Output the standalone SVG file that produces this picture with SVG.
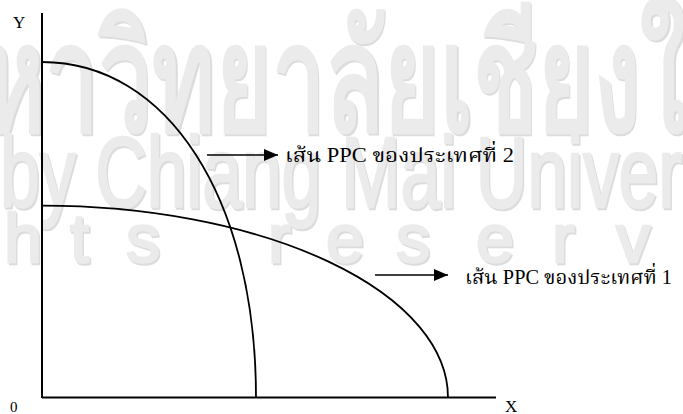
<svg xmlns="http://www.w3.org/2000/svg" width="683" height="414" viewBox="0 0 683 414">
<style>
.wm{fill:#ebebeb}
.wms{fill:#dcdcdc}
.th{font-family:"Liberation Sans Narrow","Liberation Sans","Noto Sans",sans-serif;font-weight:bold}
.en{font-family:"Liberation Sans Narrow","Liberation Sans",sans-serif;font-weight:normal}
.thk{stroke-width:2.5}
.wm .thk{stroke:#ebebeb}
.wms .thk{stroke:#dcdcdc}
.ax{stroke:#000;stroke-width:2;fill:none}
.cv{stroke:#000;stroke-width:1.8;fill:none}
.ar{stroke:#000;stroke-width:1.6;fill:none}
.lb{font-family:"Liberation Serif","Noto Serif Thai","Noto Sans Thai Looped","Noto Sans",serif;fill:#000}
</style>
<defs>
<marker id="ah" markerWidth="14" markerHeight="12" refX="14" refY="6" orient="auto" markerUnits="userSpaceOnUse">
<path d="M0,0 L14,6 L0,12 Z" fill="#000"/>
</marker>
</defs>
<rect width="683" height="414" fill="#fff"/>
<g id="watermark">
<g class="wms" transform="translate(1.5,1.5)">
<text class="th" x="-18" y="131" font-size="150" textLength="705" lengthAdjust="spacingAndGlyphs">หาวิทยาลัยเชียงใ</text>
<text class="en thk" x="0" y="207" font-size="100" textLength="682" lengthAdjust="spacingAndGlyphs">by Chiang Mai Univer</text>
<g class="en thk" font-size="68">
<text x="4" y="262">h</text><text x="70" y="262">t</text><text x="126" y="262">s</text>
<text x="268" y="262">r</text><text x="326" y="262">e</text><text x="396" y="262">s</text>
<text x="476" y="262">e</text><text x="552" y="262">r</text><text x="616" y="262">v</text>
</g>
</g>
<g class="wm">
<text class="th" x="-18" y="131" font-size="150" textLength="705" lengthAdjust="spacingAndGlyphs">หาวิทยาลัยเชียงใ</text>
<text class="en thk" x="0" y="207" font-size="100" textLength="682" lengthAdjust="spacingAndGlyphs">by Chiang Mai Univer</text>
<g class="en thk" font-size="68">
<text x="4" y="262">h</text><text x="70" y="262">t</text><text x="126" y="262">s</text>
<text x="268" y="262">r</text><text x="326" y="262">e</text><text x="396" y="262">s</text>
<text x="476" y="262">e</text><text x="552" y="262">r</text><text x="616" y="262">v</text>
</g>
</g>
</g>
<g id="axes">
<line class="ax" x1="42" y1="13" x2="42" y2="398"/>
<line class="ax" x1="42" y1="397.5" x2="496" y2="397.5"/>
<text class="lb" x="13" y="28" font-size="17">Y</text>
<text class="lb" x="10" y="412" font-size="15">0</text>
<text class="lb" x="505" y="412" font-size="17">X</text>
</g>
<g id="ppc2">
<path class="cv" d="M42,62 C167,62 256,197.5 256,397.5"/>
<text class="lb" x="285" y="162" font-size="20" textLength="229" lengthAdjust="spacingAndGlyphs">เส้น PPC ของประเทศที่ 2</text>
</g>
<g id="ppc1">
<path class="cv" d="M42,205.7 A406,191.8 0 0 1 448,397.5"/>
<text class="lb" x="465" y="284" font-size="20" textLength="207" lengthAdjust="spacingAndGlyphs">เส้น PPC ของประเทศที่ 1</text>
</g>
<g id="connectors">
<line class="ar" x1="207" y1="155" x2="278" y2="155" marker-end="url(#ah)"/>
<line class="ar" x1="375" y1="275" x2="448" y2="275" marker-end="url(#ah)"/>
</g>
</svg>
